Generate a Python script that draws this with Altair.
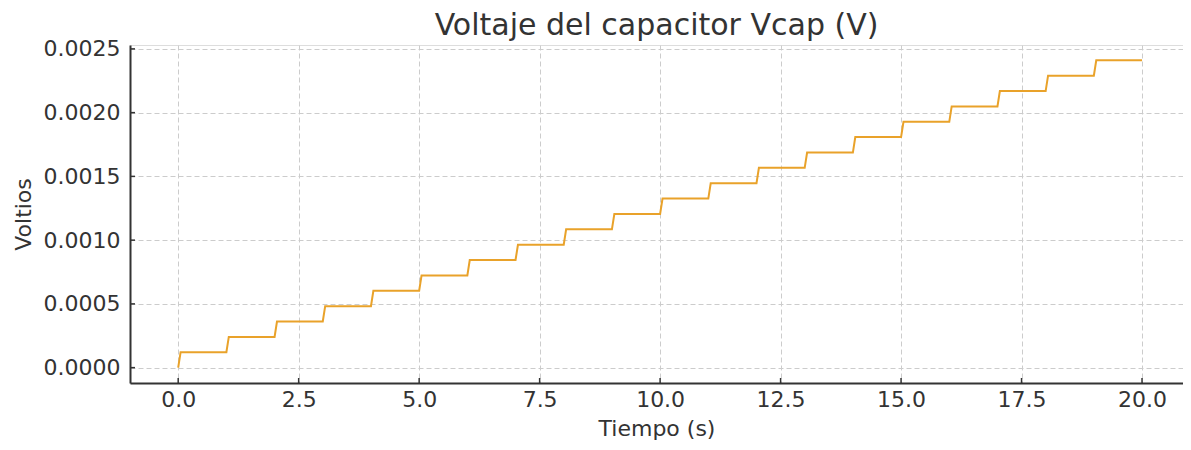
import altair as alt
import pandas as pd

# Step start times (s) and the capacitor voltage level reached at each step (V)
step_start = [0, 1, 2, 3, 4, 5, 6, 7, 8, 9, 10, 11, 12, 13, 14, 15, 16, 17, 18, 19]
step_level = [0.000121, 0.000241, 0.000362, 0.000482, 0.000603, 0.000723, 0.000844,
              0.000964, 0.001085, 0.001205, 0.001326, 0.001446, 0.001567, 0.001687,
              0.001808, 0.001928, 0.002049, 0.002169, 0.002290, 0.002410]
rise_time = 0.05
end_time = 20
x_ticks = [0, 2.5, 5, 7.5, 10, 12.5, 15, 17.5, 20]
y_ticks = [0.0, 0.0005, 0.0010, 0.0015, 0.0020, 0.0025]

# Build the staircase path
t_pts, v_pts = [0.0], [0.0]
for i, (s, lvl) in enumerate(zip(step_start, step_level)):
    t_pts.append(s + rise_time)
    v_pts.append(lvl)
    nxt = step_start[i + 1] if i + 1 < len(step_start) else end_time
    t_pts.append(nxt)
    v_pts.append(lvl)
df = pd.DataFrame({"t": t_pts, "v": v_pts, "order": range(len(t_pts))})

FONT = "DejaVu Sans"
W, H = 1053, 338
xscale = alt.Scale(domain=[-1, 20.85], nice=False, zero=False)
yscale = alt.Scale(domain=[-0.0001205, 0.0025305], nice=False, zero=False)

line = alt.Chart(df).mark_line(color="#E9A22A", strokeWidth=2, interpolate="linear").encode(
    x=alt.X("t:Q", scale=xscale, title="Tiempo (s)",
            axis=alt.Axis(values=x_ticks, format=".1f", tickSize=0, labelPadding=6,
                          titlePadding=8, gridDash=[5, 3], gridColor="#cccccc",
                          gridWidth=1, domainColor="#333333", domainWidth=2,
                          labelFontSize=22, titleFontSize=22, labelFont=FONT,
                          titleFont=FONT, labelColor="#333333", titleColor="#333333",
                          titleFontWeight="normal", labelFlush=False)),
    y=alt.Y("v:Q", scale=yscale, title="Voltios",
            axis=alt.Axis(values=y_ticks, format=".4f", tickSize=0, labelPadding=10,
                          titlePadding=8, gridDash=[5, 3], gridColor="#cccccc",
                          gridWidth=1, domainColor="#333333", domainWidth=2,
                          labelFontSize=22, titleFontSize=22, labelFont=FONT,
                          titleFont=FONT, labelColor="#333333", titleColor="#333333",
                          titleFontWeight="normal", labelFlush=False)),
    order="order:Q",
)

xt = alt.Chart(pd.DataFrame({"x": x_ticks})).mark_rule(color="#333333", strokeWidth=1.5).encode(
    x=alt.X("x:Q", scale=xscale), y=alt.value(H), y2=alt.value(H - 5)
)
yt = alt.Chart(pd.DataFrame({"y": y_ticks})).mark_rule(color="#333333", strokeWidth=1.5).encode(
    y=alt.Y("y:Q", scale=yscale), x=alt.value(0), x2=alt.value(5)
)

chart = alt.layer(line, xt, yt).properties(
    width=W, height=H,
    title=alt.TitleParams("Voltaje del capacitor Vcap (V)", fontSize=30, font=FONT,
                          fontWeight="normal", color="#333333", anchor="middle", offset=-3),
    autosize=alt.AutoSizeParams(type="none"),
    padding={"left": 122, "top": 37, "right": 0, "bottom": 58},
).configure_view(stroke=None).configure(background="white")

chart.save("out.html", embed_options={"renderer": "svg", "actions": False})
